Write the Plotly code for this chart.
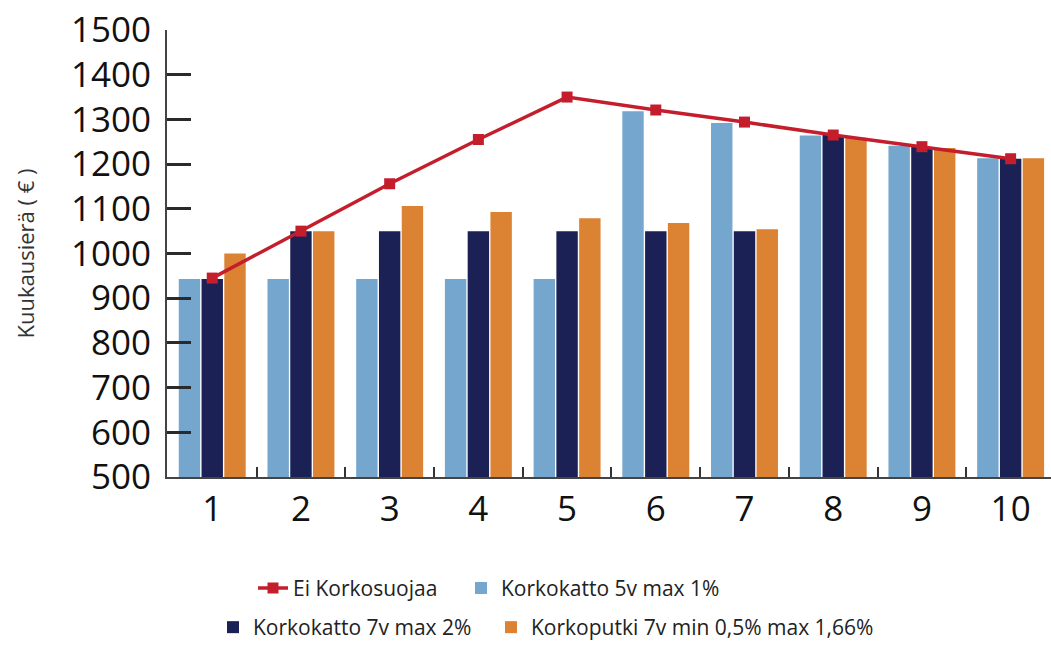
import plotly.graph_objects as go

categories = ["1", "2", "3", "4", "5", "6", "7", "8", "9", "10"]
ei_korkosuojaa = [945, 1050, 1156, 1255, 1350, 1321, 1294, 1265, 1239, 1212]
katto_5v = [943, 943, 943, 943, 943, 1318, 1292, 1264, 1241, 1213]
katto_7v = [943, 1050, 1050, 1050, 1050, 1050, 1050, 1265, 1238, 1212]
putki_7v = [1000, 1050, 1106, 1093, 1079, 1068, 1054, 1259, 1236, 1213]

C_LB = "#74A6CE"
C_NAVY = "#1B2155"
C_ORANGE = "#DB8233"
C_RED = "#C41E2D"

L, R, T, B = 167, 0, 30, 164
W, H = 1051, 648
PW = W - L - R
PH = H - T - B

def px_x(p):
    return (p - L) / PW

def px_y(p):
    return (H - B - p) / PH

fig = go.Figure()
fig.add_trace(go.Bar(x=categories, y=katto_5v, name="Korkokatto 5v max 1%",
                     marker=dict(color=C_LB, line=dict(width=0)), legend="legend2"))
fig.add_trace(go.Bar(x=categories, y=katto_7v, name="Korkokatto 7v max 2%",
                     marker=dict(color=C_NAVY, line=dict(width=0)), legend="legend3"))
fig.add_trace(go.Bar(x=categories, y=putki_7v, name="Korkoputki 7v min 0,5% max 1,66%",
                     marker=dict(color=C_ORANGE, line=dict(width=0)), legend="legend4"))
fig.add_trace(go.Scatter(x=categories, y=ei_korkosuojaa, name="Ei Korkosuojaa",
                         mode="lines+markers",
                         line=dict(color=C_RED, width=3.5),
                         marker=dict(symbol="square", size=11, color=C_RED),
                         legend="legend"))

legend_font = dict(family="Open Sans", size=21, color="#222222")

def leg(text_x, y):
    return dict(x=px_x(text_x - 42), y=px_y(y), xanchor="left", yanchor="middle",
                orientation="h", font=legend_font, bgcolor="rgba(0,0,0,0)",
                borderwidth=0, itemclick=False)

fig.update_layout(
    width=W, height=H,
    margin=dict(l=L, r=R, t=T, b=B),
    paper_bgcolor="white", plot_bgcolor="white",
    barmode="group", bargap=0.23, bargroupgap=0.06,
    showlegend=True,
    legend=leg(295, 597),
    legend2=leg(503, 597),
    legend3=leg(255, 637),
    legend4=leg(533, 637),
    xaxis=dict(
        type="category", range=[-0.51, 9.455],
        showline=True, linecolor="#444444", linewidth=2,
        ticks="inside", tickson="boundaries", ticklen=10, tickwidth=2, tickcolor="#333333",
        tickfont=dict(family="Open Sans", size=35, color="#111111"),
        showgrid=False, zeroline=False,
    ),
    yaxis=dict(
        range=[500, 1500], dtick=100, tick0=500,
        showline=True, linecolor="#444444", linewidth=2,
        ticks="inside", ticklen=24, tickwidth=3, tickcolor="#2A2A2A",
        ticklabelstandoff=7,
        tickfont=dict(family="Open Sans", size=35, color="#111111"),
        showgrid=False, zeroline=False,
        title=dict(text="Kuukausierä ( € )", standoff=30,
                   font=dict(family="Open Sans", size=22, color="#333333")),
    ),
)

fig.write_html("out.html")
